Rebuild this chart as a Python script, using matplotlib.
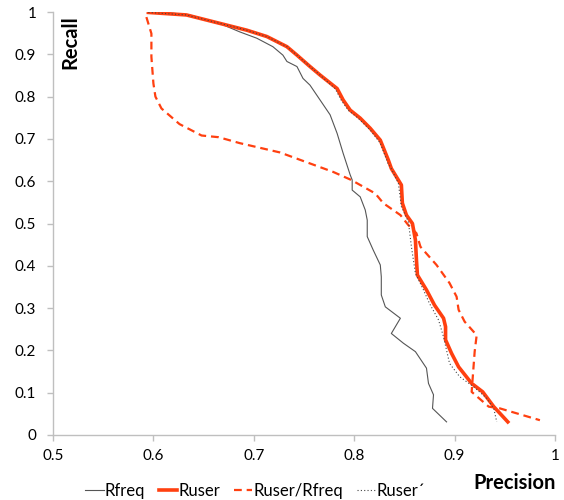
import matplotlib
matplotlib.use("Agg")
import matplotlib.pyplot as plt

plt.rcParams["font.family"] = ["Lato", "DejaVu Sans"]

# --- Data (precision, recall) ---
rfreq_p = [0.595, 0.620, 0.636, 0.666, 0.686, 0.703, 0.719, 0.729, 0.733, 0.743, 0.749,
           0.756, 0.766, 0.776, 0.783, 0.789, 0.796, 0.798, 0.798, 0.806, 0.811, 0.813,
           0.813, 0.819, 0.826, 0.827, 0.827, 0.831, 0.846, 0.837, 0.849, 0.861, 0.872,
           0.874, 0.879, 0.878, 0.892]
rfreq_r = [1.000, 0.997, 0.993, 0.973, 0.953, 0.938, 0.918, 0.898, 0.883, 0.871, 0.843,
           0.827, 0.792, 0.757, 0.713, 0.666, 0.615, 0.603, 0.579, 0.563, 0.532, 0.508,
           0.469, 0.437, 0.402, 0.374, 0.331, 0.303, 0.276, 0.240, 0.217, 0.197, 0.158,
           0.122, 0.095, 0.063, 0.031]

ruser_p = [0.595, 0.633, 0.653, 0.693, 0.713, 0.733, 0.743, 0.756, 0.766, 0.783, 0.789,
           0.796, 0.806, 0.816, 0.826, 0.834, 0.837, 0.847, 0.848, 0.852, 0.858, 0.861,
           0.862, 0.863, 0.872, 0.880, 0.889, 0.891, 0.891, 0.897, 0.904, 0.917, 0.928,
           0.939, 0.953]
ruser_r = [0.999, 0.993, 0.981, 0.957, 0.942, 0.918, 0.898, 0.871, 0.851, 0.819, 0.792,
           0.768, 0.749, 0.725, 0.697, 0.650, 0.630, 0.591, 0.548, 0.520, 0.500, 0.461,
           0.414, 0.378, 0.343, 0.307, 0.276, 0.256, 0.225, 0.193, 0.161, 0.122, 0.102,
           0.067, 0.031]

ruser_rfreq_p = [0.593, 0.598, 0.598, 0.600, 0.602, 0.608, 0.626, 0.648, 0.665, 0.686,
                 0.726, 0.749, 0.779, 0.797, 0.821, 0.829, 0.846, 0.854, 0.862, 0.866,
                 0.882, 0.895, 0.902, 0.904, 0.910, 0.922, 0.920, 0.917, 0.934, 0.945,
                 0.985]
ruser_rfreq_r = [0.988, 0.949, 0.894, 0.831, 0.800, 0.772, 0.735, 0.708, 0.704, 0.690,
                 0.668, 0.648, 0.622, 0.603, 0.571, 0.548, 0.520, 0.496, 0.477, 0.445,
                 0.402, 0.359, 0.327, 0.296, 0.268, 0.236, 0.197, 0.102, 0.067, 0.063,
                 0.035]

ruser2_p = [0.595, 0.633, 0.653, 0.693, 0.713, 0.733, 0.743, 0.756, 0.766, 0.781, 0.787,
            0.794, 0.804, 0.816, 0.826, 0.834, 0.836, 0.844, 0.847, 0.854, 0.857, 0.861,
            0.869, 0.875, 0.884, 0.889, 0.895, 0.905, 0.919, 0.932, 0.939, 0.942]
ruser2_r = [0.999, 0.993, 0.981, 0.957, 0.942, 0.918, 0.898, 0.871, 0.851, 0.819, 0.792,
            0.768, 0.749, 0.721, 0.690, 0.640, 0.634, 0.595, 0.540, 0.504, 0.445, 0.382,
            0.343, 0.311, 0.272, 0.232, 0.169, 0.138, 0.114, 0.087, 0.063, 0.031]

red = "#FF4010"
axis_grey = "#BFBFBF"

fig = plt.figure(figsize=(5.64, 5.0), dpi=100)
ax = fig.add_axes([0.094, 0.13, 0.89, 0.846])

ax.plot(rfreq_p, rfreq_r, color="#555555", lw=0.8, label="Rfreq")
ax.plot(ruser_p, ruser_r, color=red, lw=2.6, label="Ruser")
ax.plot(ruser_rfreq_p, ruser_rfreq_r, color=red, lw=1.6, dashes=(3.5, 2.2), label="Ruser/Rfreq")
ax.plot(ruser2_p, ruser2_r, color="#444444", lw=0.8, dashes=(1, 2), label="Ruser\u00b4")

ax.set_xlim(0.5, 1.0)
ax.set_ylim(0, 1.0)
ax.set_xticks([0.5, 0.6, 0.7, 0.8, 0.9, 1.0])
ax.set_xticklabels(["0.5", "0.6", "0.7", "0.8", "0.9", "1"])
ax.set_yticks([0, 0.1, 0.2, 0.3, 0.4, 0.5, 0.6, 0.7, 0.8, 0.9, 1.0])
ax.set_yticklabels(["0", "0.1", "0.2", "0.3", "0.4", "0.5", "0.6", "0.7", "0.8", "0.9", "1"])

for s in ["top", "right"]:
    ax.spines[s].set_visible(False)
for s in ["left", "bottom"]:
    ax.spines[s].set_color(axis_grey)
    ax.spines[s].set_linewidth(1.0)
ax.tick_params(axis="both", colors=axis_grey, labelcolor="black", labelsize=11,
               length=4, width=1.0, direction="out")
ax.tick_params(axis="x", pad=6)
ax.tick_params(axis="y", pad=8)

fig.text(0.125, 0.915, "Recall", rotation=90, fontsize=14.5, fontweight="bold",
         ha="center", va="center")
fig.text(0.912, 0.034, "Precision", fontsize=14.5, fontweight="bold",
         ha="center", va="center")

fig.legend(loc="center", bbox_to_anchor=(0.452, 0.018), ncol=4, frameon=False,
           fontsize=12, handlelength=1.1, handletextpad=0.05, columnspacing=0.85,
           borderaxespad=0, borderpad=0)

fig.savefig("out.png", dpi=100)
